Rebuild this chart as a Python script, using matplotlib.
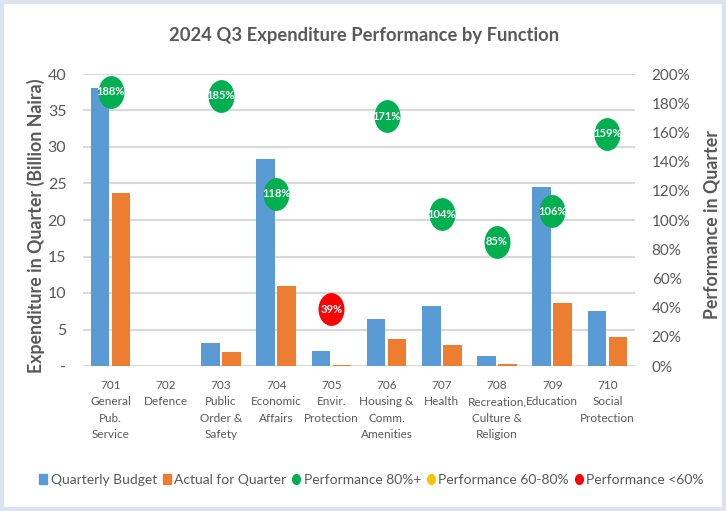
import matplotlib
matplotlib.use("Agg")
import matplotlib.pyplot as plt
import numpy as np
from matplotlib.patches import Patch, Rectangle
from matplotlib.lines import Line2D
from matplotlib.path import Path
from matplotlib.transforms import Affine2D

plt.rcParams['font.family'] = ['Lato', 'DejaVu Sans']

categories = ["701\nGeneral\nPub.\nService", "702\nDefence", "703\nPublic\nOrder &\nSafety",
              "704\nEconomic\nAffairs", "705\nEnvir.\nProtection", "706\nHousing &\nComm.\nAmenities",
              "707\nHealth", "708\nRecreation,\nCulture &\nReligion", "709\nEducation",
              "710\nSocial\nProtection"]
budget = [38.1, 0.0, 3.1, 28.4, 2.0, 6.5, 8.2, 1.4, 24.5, 7.6]
actual = [23.7, 0.0, 1.9, 11.0, 0.1, 3.7, 2.9, 0.3, 8.6, 4.0]
performance = [188, None, 185, 118, 39, 171, 104, 85, 106, 159]
left_ticks = [0, 5, 10, 15, 20, 25, 30, 35, 40]
left_ticklabels = ["-", "5", "10", "15", "20", "25", "30", "35", "40"]
right_ticks = [0, 20, 40, 60, 80, 100, 120, 140, 160, 180, 200]

BLUE = "#5B9BD5"
ORANGE = "#ED7D31"
GREEN = "#00B050"
YELLOW = "#FFC000"
RED = "#FF0000"
GRAY = "#595959"

fig = plt.figure(figsize=(7.26, 5.11), dpi=100)
fig.patches.append(Rectangle((0, 0), 1, 1, transform=fig.transFigure, fill=False,
                             edgecolor="#DAE3EE", linewidth=6, zorder=0))

ax = fig.add_axes([83/726, 1-366/511, (635-83)/726, (366-74)/511])
x = np.arange(len(categories))
w = 0.34
ax.bar(x - 0.19, budget, w, color=BLUE, zorder=3)
ax.bar(x + 0.19, actual, w, color=ORANGE, zorder=3)
ax.set_xlim(-0.5, len(categories) - 0.5)
ax.set_ylim(0, 40)
ax.set_yticks(left_ticks)
ax.set_yticklabels(left_ticklabels)
ax.grid(axis='y', color="#D9D9D9", linewidth=1.5, zorder=0)
ax.set_axisbelow(True)
for s in ax.spines.values():
    s.set_visible(False)
ax.tick_params(axis='y', length=0, labelsize=11.5, labelcolor=GRAY, pad=12)
ax.tick_params(axis='x', length=0, labelsize=8.5, labelcolor=GRAY, pad=10)
ax.set_xticks(x)
ax.set_xticklabels(categories, linespacing=1.6, va='top')
ax.set_ylabel("Expenditure in Quarter (Billion Naira)", fontsize=12.8, fontweight='bold',
              color=GRAY)
ax.yaxis.set_label_coords(-0.068, 0.48)

ax2 = ax.twinx()
ax2.set_ylim(0, 200)
ax2.set_yticks(right_ticks)
ax2.set_yticklabels([f"{t}%" for t in right_ticks])
for s in ax2.spines.values():
    s.set_visible(False)
ax2.tick_params(axis='y', length=0, labelsize=11, labelcolor=GRAY, pad=12)
ax2.set_ylabel("Performance in Quarter", fontsize=12.8, fontweight='bold', color=GRAY)
ax2.yaxis.set_label_coords(1.125, 0.486)

ell = Path.unit_circle().transformed(Affine2D().scale(0.79, 1.0))
for xi, p in zip(x, performance):
    if p is None:
        continue
    c = GREEN if p >= 80 else (YELLOW if p >= 60 else RED)
    ax2.scatter([xi], [p], s=560, marker=ell, color=c, zorder=5, linewidths=0)
    ax2.text(xi, p, f"{p}%", ha='center', va='center', color='white', fontsize=8,
             fontweight='bold', zorder=6)

fig.text(0.501, 1-35/511, "2024 Q3 Expenditure Performance by Function", ha='center',
         va='center', fontsize=13.2, fontweight='bold', color=GRAY)

handles = [
    Patch(color=BLUE, label="Quarterly Budget"),
    Patch(color=ORANGE, label="Actual for Quarter"),
    Line2D([], [], marker=ell, linestyle='none', markersize=7, color=GREEN, label="Performance 80%+"),
    Line2D([], [], marker=ell, linestyle='none', markersize=7, color=YELLOW, label="Performance 60-80%"),
    Line2D([], [], marker=ell, linestyle='none', markersize=7, color=RED, label="Performance <60%"),
]
leg = fig.legend(handles=handles, loc='center', bbox_to_anchor=(0.512, 1-480/511), ncol=5,
                 frameon=False, fontsize=10, handlelength=0.55, handleheight=0.7,
                 handletextpad=0.25, columnspacing=0.45, labelcolor=GRAY)

fig.savefig("out.png", dpi=100)
